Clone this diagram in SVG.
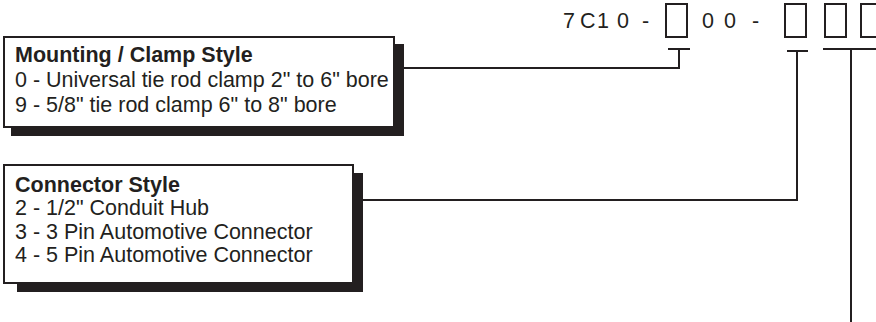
<svg xmlns="http://www.w3.org/2000/svg" width="876" height="322" viewBox="0 0 876 322">
<style>
  .bg{fill:#ffffff}
  .box{fill:#ffffff;stroke:#231f20;stroke-width:2}
  .shadow{fill:#231f20}
  .ln{fill:none;stroke:#231f20;stroke-width:2}
  .t{font-family:"Liberation Sans",Arial,sans-serif;font-size:21.5px;fill:#231f20}
  .b{font-weight:bold}
</style>
<rect class="bg" x="0" y="0" width="876" height="322"/>
<g id="code">
  <text class="t" x="563 580 597 617 642" y="28">7C10-</text>
  <text class="t" x="702 724 752" y="28">00-</text>
  <rect class="box" x="666" y="4" width="21" height="33"/>
  <rect class="box" x="785" y="4" width="21" height="33"/>
  <rect class="box" x="825" y="4" width="21" height="33"/>
  <rect class="box" x="861" y="4" width="21" height="33"/>
</g>
<g id="mounting">
  <rect class="shadow" x="11" y="44" width="393" height="92"/>
  <rect class="box" x="4" y="37" width="390" height="90"/>
  <text class="t b" x="15" y="62">Mounting / Clamp Style</text>
  <text class="t" x="15" y="87">0 - Universal tie rod clamp 2" to 6" bore</text>
  <text class="t" x="15" y="112">9 - 5/8" tie rod clamp 6" to 8" bore</text>
</g>
<g id="connector">
  <rect class="shadow" x="17" y="173" width="346" height="119"/>
  <rect class="box" x="4" y="165" width="349" height="118"/>
  <text class="t b" x="15" y="192">Connector Style</text>
  <text class="t" x="15" y="215">2 - 1/2" Conduit Hub</text>
  <text class="t" x="15" y="239">3 - 3 Pin Automotive Connector</text>
  <text class="t" x="15" y="262">4 - 5 Pin Automotive Connector</text>
</g>
<g id="connectors">
  <path class="ln" d="M668 49 H690 M679 49 V68 H404"/>
  <path class="ln" d="M787 51 H808 M797 51 V200 H363"/>
  <path class="ln" d="M823 49 H876 M851 49 V322"/>
</g>
</svg>
